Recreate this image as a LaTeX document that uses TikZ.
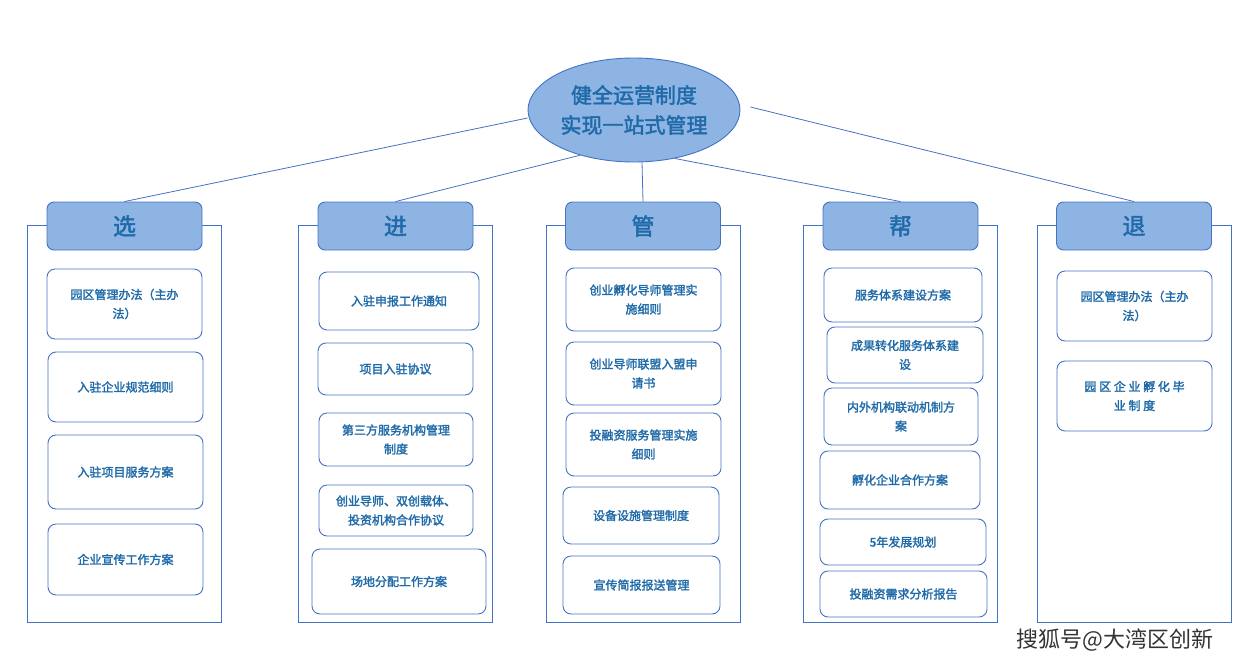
\documentclass[tikz,border=0pt]{standalone}
\usepackage{fontspec}
\setmainfont{Noto Sans CJK SC}[AutoFakeBold=2]
\usetikzlibrary{shapes.geometric}
\definecolor{edge}{RGB}{68,114,196}
\definecolor{headfill}{RGB}{142,180,227}
\definecolor{ink}{RGB}{31,106,168}
\tikzset{
  item/.style={draw=edge,line width=0.9pt,rounded corners=8pt,fill=white,align=center,text=ink,font=\fontsize{12}{19}\selectfont\bfseries,inner sep=2pt},
  head/.style={draw=edge,line width=0.9pt,rounded corners=7pt,fill=headfill,text=ink,font=\fontsize{23}{24}\selectfont\bfseries,minimum width=155pt,minimum height=48pt},
  frame/.style={draw=edge,line width=0.9pt},
  link/.style={draw=edge,line width=0.8pt}
}
\begin{document}
\begin{tikzpicture}[x=1pt,y=-1pt]
\useasboundingbox (0,0) rectangle (1257,669);
%hub
\node (hub) at (634,110) [ellipse,draw=edge,line width=0.9pt,fill=headfill,minimum width=212pt,minimum height=104pt,inner sep=0pt,align=center,text=ink,font=\fontsize{21}{30}\selectfont\bfseries] {健全运营制度\\实现一站式管理};
%column frames
\foreach \x in {27,298,546,803,1037}{
  \draw[frame] (\x,225) rectangle ++(194,397);
}
%headers
\node (h1) at (124.5,226) [head] {选};
\node (h2) at (395.5,226) [head] {进};
\node (h3) at (643,226) [head] {管};
\node (h4) at (900.5,226) [head] {帮};
\node (h5) at (1134,226) [head] {退};
%links
\draw[link] (hub.west) ++(0,8) -- (h1.north);
\draw[link] (hub.220) -- (h2.north);
\draw[link] (hub.south) ++(8,0) -- (h3.north);
\draw[link] (hub.310) -- (h4.north);
\draw[link] (hub.east) ++(10,-3) -- (h5.north);
%column 1
\node (a1) at (124.5,304) [item,minimum width=155pt,minimum height=70pt] {园区管理办法（主办\\法）};
\node (a2) at (125.5,387) [item,minimum width=155pt,minimum height=70pt] {入驻企业规范细则};
\node (a3) at (125.5,472) [item,minimum width=155pt,minimum height=74pt] {入驻项目服务方案};
\node (a4) at (125.5,559.5) [item,minimum width=155pt,minimum height=71pt] {企业宣传工作方案};
%column 2
\node (b1) at (399,301) [item,minimum width=160pt,minimum height=58pt] {入驻申报工作通知};
\node (b2) at (395.5,369) [item,minimum width=155pt,minimum height=52pt] {项目入驻协议};
\node (b3) at (396,439.5) [item,minimum width=154pt,minimum height=53pt] {第三方服务机构管理\\制度};
\node (b4) at (396,510.5) [item,minimum width=154pt,minimum height=51pt] {创业导师、双创载体、\\投资机构合作协议};
\node (b5) at (399,581.5) [item,minimum width=174pt,minimum height=65pt] {场地分配工作方案};
%column 3
\node (c1) at (643.5,299.5) [item,minimum width=155pt,minimum height=63pt] {创业孵化导师管理实\\施细则};
\node (c2) at (643.5,373.5) [item,minimum width=155pt,minimum height=63pt] {创业导师联盟入盟申\\请书};
\node (c3) at (643.5,444.5) [item,minimum width=155pt,minimum height=63pt] {投融资服务管理实施\\细则};
\node (c4) at (641,515.5) [item,minimum width=156pt,minimum height=57pt] {设备设施管理制度};
\node (c5) at (641.5,585) [item,minimum width=157pt,minimum height=58pt] {宣传简报报送管理};
%column 4
\node (d1) at (903,295) [item,minimum width=158pt,minimum height=54pt] {服务体系建设方案};
\node (d2) at (905,355) [item,minimum width=156pt,minimum height=56pt] {成果转化服务体系建\\设};
\node (d3) at (901,416.5) [item,minimum width=154pt,minimum height=57pt] {内外机构联动机制方\\案};
\node (d4) at (900,480) [item,minimum width=160pt,minimum height=58pt] {孵化企业合作方案};
\node (d5) at (903,542) [item,minimum width=166pt,minimum height=46pt] {5年发展规划};
\node (d6) at (903.5,594) [item,minimum width=167pt,minimum height=46pt] {投融资需求分析报告};
%column 5
\node (e1) at (1134.5,306) [item,minimum width=155pt,minimum height=70pt] {园区管理办法（主办\\法）};
\node (e2) at (1134.5,396) [item,minimum width=155pt,minimum height=70pt] {园 区 企 业 孵 化 毕\\业 制 度};
%watermark
\node (wm) at (1115,640) [text=black!80,font=\fontsize{22}{24}\selectfont] {搜狐号@大湾区创新};
\end{tikzpicture}
\end{document}
